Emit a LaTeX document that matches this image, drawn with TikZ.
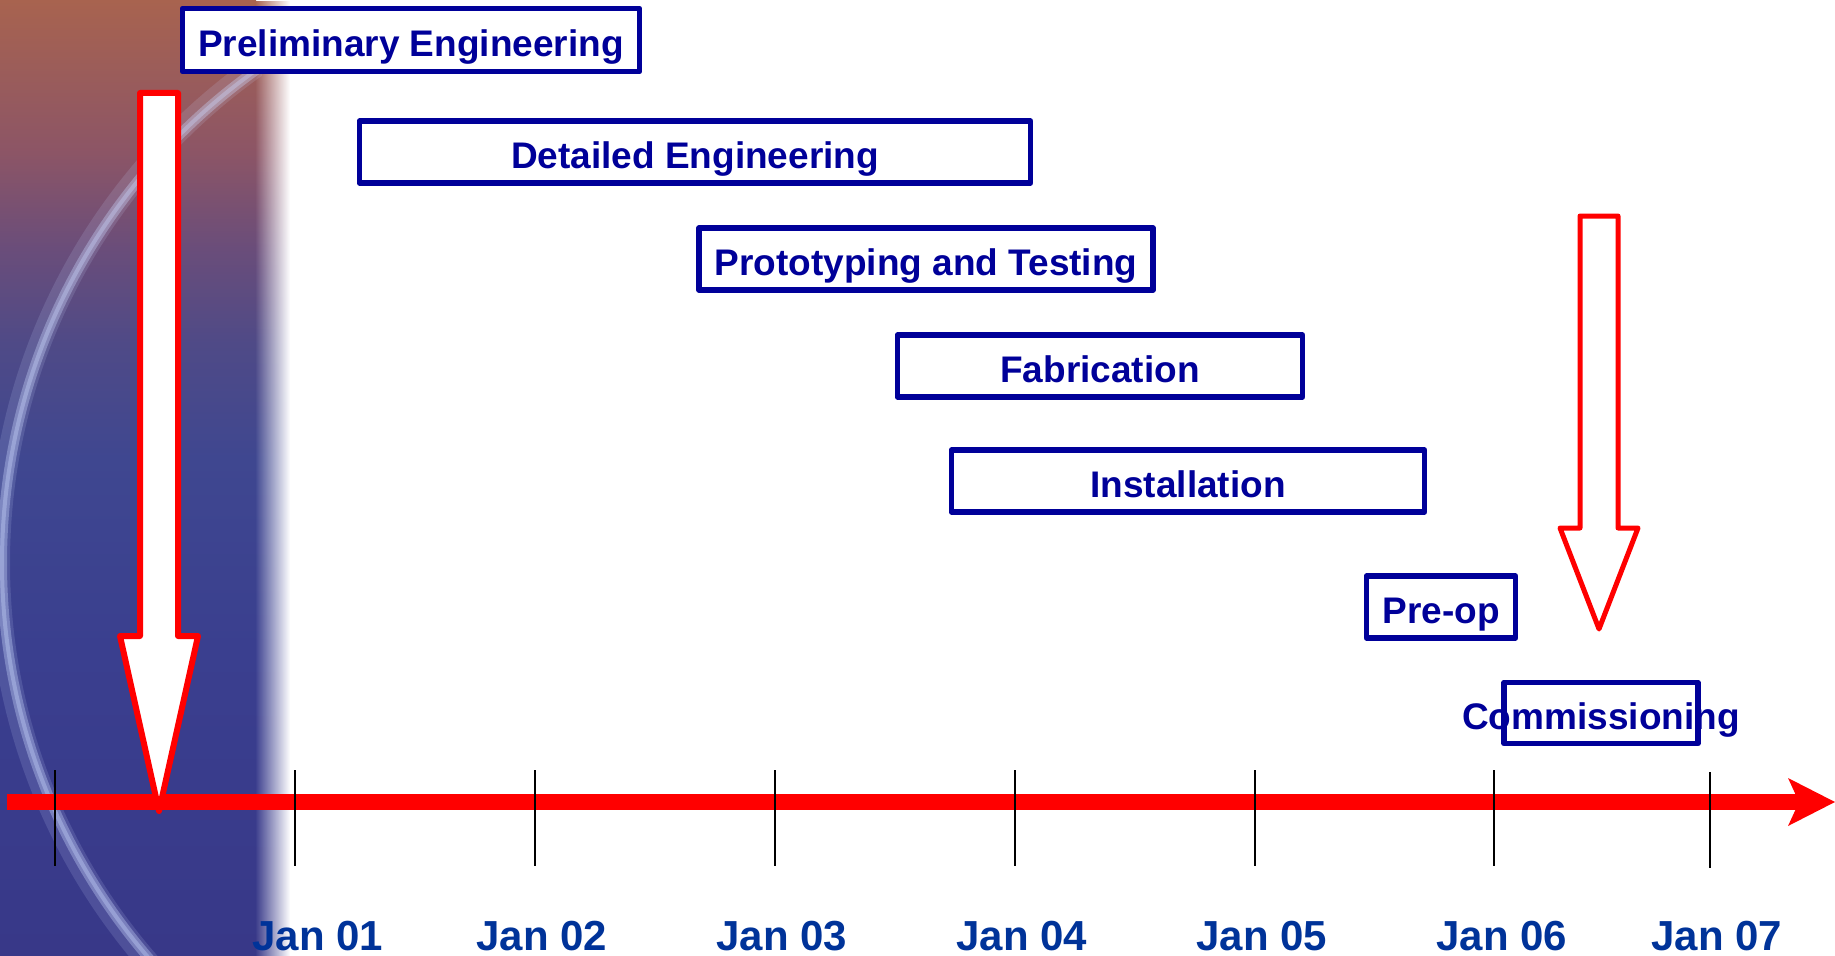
\documentclass[tikz,border=0pt]{standalone}
\usepackage{fontspec}
\setmainfont{Liberation Sans}
\usepackage{xcolor}
\usepackage{tikz}
\usetikzlibrary{fadings,positioning}

\definecolor{boxblue}{RGB}{0,0,153}
\definecolor{dateblue}{RGB}{0,51,153}
\definecolor{panelA}{RGB}{168,99,79}
\definecolor{panelAB}{RGB}{140,85,102}
\definecolor{panelB}{RGB}{106,77,122}
\definecolor{panelBC}{RGB}{79,74,135}
\definecolor{panelC}{RGB}{63,71,144}
\definecolor{panelD}{RGB}{58,63,143}
\definecolor{panelE}{RGB}{56,56,136}
\definecolor{glow}{RGB}{205,218,255}

% side panel, brown at the top to blue at the bottom
\pgfdeclareverticalshading{panelshade}{100bp}{color(0bp)=(panelE); color(25bp)=(panelE);
  color(41bp)=(panelD); color(51bp)=(panelC); color(57bp)=(panelBC); color(62bp)=(panelB);
  color(67bp)=(panelAB); color(75bp)=(panelA); color(100bp)=(panelA)}

\begin{document}
\begin{tikzpicture}[x=1pt, y=-1pt,
                    phasetext/.style={text=boxblue, font=\fontsize{37}{40}\selectfont\bfseries,
                                      text height=32.5pt, text depth=0pt, inner sep=0pt},
                    phase/.style={phasetext, draw=boxblue, fill=white, line width=5.5pt,
                                  line join=round, minimum height=62pt},
                    datelabel/.style={text=dateblue, font=\fontsize{42}{46}\selectfont\bfseries,
                                      anchor=base, text depth=0pt, inner sep=0pt},
                    yearmark/.style={black, line width=1.8pt},
                    timeline/.style={red, line width=16pt},
                    milestone/.style={draw=red, fill=white, line width=6pt, line join=round},
                   ]

\useasboundingbox (0,0) rectangle (1835,955);

% background panel with its soft right edge
\shade[shading=panelshade] (0,0) rectangle (256,955);
\shade[shading=panelshade, path fading=east] (255,0) rectangle (290,955);
\begin{scope}
  \clip (0,0) rectangle (262,955);
  \draw[glow, opacity=.15, line width=22pt] (607,563) circle[radius=608pt];
  \draw[glow, opacity=.35, line width=10pt] (607,563) circle[radius=605pt];
  \draw[glow, opacity=.35, line width=4pt] (607,563) circle[radius=605pt];
\end{scope}

% time axis
\coordinate (t0) at (7,802);
\coordinate (t1) at (1799,802);
\coordinate (tip) at (1835,802);
\draw[timeline] (t0) -- (t1);
\fill[red] (tip) -- (1788,778) -- (t1) -- (1788,826) -- cycle;

\draw[yearmark] (55,770) -- (55,866);
\draw[yearmark] (295,770) -- (295,866);
\draw[yearmark] (535,770) -- (535,866);
\draw[yearmark] (775,770) -- (775,866);
\draw[yearmark] (1015,770) -- (1015,866);
\draw[yearmark] (1255,770) -- (1255,866);
\draw[yearmark] (1494,770) -- (1494,866);
\draw[yearmark] (1710,772) -- (1710,868);

\node[datelabel] (jan01) at (318,950) {Jan 01};
\node[datelabel] (jan02) at (542,950) {Jan 02};
\node[datelabel] (jan03) at (782,950) {Jan 03};
\node[datelabel] (jan04) at (1022,950) {Jan 04};
\node[datelabel] (jan05) at (1262,950) {Jan 05};
\node[datelabel] (jan06) at (1502,950) {Jan 06};
\node[datelabel] (jan07) at (1717,950) {Jan 07};

% start and end markers
\draw[milestone] (140,93) -- (178,93) -- (178,636) -- (198,636) -- (159,811)
                 -- (120,636) -- (140,636) -- cycle;
\draw[milestone, line width=5pt] (1580,216) -- (1618,216) -- (1618,528) -- (1638,528)
                 -- (1599,629) -- (1560,528) -- (1580,528) -- cycle;

% project phases
\node[phase, minimum width=457pt, minimum height=63pt] (prelim) at (411,40) {Preliminary Engineering};
\node[phase, minimum width=671pt] (detail) at (695,152) {Detailed Engineering};
\node[phase, minimum width=454pt] (proto) at (926,259) {Prototyping and Testing};
\node[phase, minimum width=405pt] (fab) at (1100,366) {Fabrication};
\node[phase, minimum width=473pt] (install) at (1188,481) {Installation};
\node[phase, minimum width=149pt] (preop) at (1441,607) {Pre-op};
\node[phase, minimum width=194pt, minimum height=61pt] (comm) at (1601,713) {};
\node[phasetext] at (comm) {Commissioning};

\end{tikzpicture}
\end{document}
